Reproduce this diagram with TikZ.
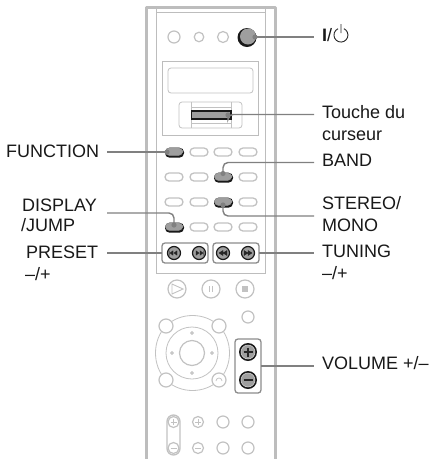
\documentclass[tikz,border=0pt]{standalone}
\usepackage{fontspec}
\setmainfont{Liberation Sans}
\definecolor{bodygr}{gray}{0.74}
\definecolor{softgr}{gray}{0.76}
\definecolor{midgr}{gray}{0.62}
\definecolor{leadgr}{gray}{0.5}
\tikzset{
  x=1pt,y=-1pt,
  lbl/.style={anchor=base west,inner sep=0pt,font=\fontsize{18}{20}\selectfont,text=black!90},
  leader/.style={draw=leadgr,line width=1.4pt,rounded corners=5pt},
  tipdot/.style={fill=leadgr,draw=none},
  bodyline/.style={draw=bodygr,line width=1pt},
  softline/.style={draw=softgr,line width=0.8pt,fill=white},
  softthick/.style={draw=softgr,line width=1.3pt,fill=white},
  pillbtn/.style={rectangle,rounded corners=4pt,minimum width=18pt,minimum height=8pt,inner sep=0pt,draw=softgr,line width=1.3pt,fill=white},
  pillshadow/.style={rectangle,rounded corners=4.5pt,minimum width=19pt,minimum height=10pt,inner sep=0pt,fill=black!90},
  pilldark/.style={rectangle,rounded corners=4pt,minimum width=17pt,minimum height=7.5pt,inner sep=0pt,fill=midgr,draw=gray!80,line width=0.5pt},
  roundb/.style={circle,minimum size=#1,inner sep=0pt,draw=softgr,line width=1.2pt,fill=white},
  darkb/.style={circle,minimum size=#1,inner sep=0pt,draw=black!90,line width=1.2pt,fill=midgr},
  groupbox/.style={draw=gray!90,line width=1.3pt,rounded corners=3pt},
  sym/.style={draw=black!85,line width=0.9pt},
  softsym/.style={draw=softgr,line width=0.9pt}
}
\begin{document}
\begin{tikzpicture}
\useasboundingbox (0,0) rectangle (430,459);
\fill[white] (0,0) rectangle (430,459);
% body
\draw[draw=bodygr,line width=3pt,line join=round] (146,459) -- (146,7) -- (275.5,7) -- (275.5,459);
\draw[bodyline] (156,7) -- (156,273) -- (265,273) -- (265,7);
\draw[bodyline] (156,12.5) -- (265,12.5);
% top buttons
\node[roundb=12pt] (t1) at (174,37) {};
\node[roundb=9.5pt] (t2) at (199,37) {};
\node[roundb=11pt] (t3) at (223,37) {};
\fill[black!90] (247,37.5) circle (9.5);
\fill[midgr] (248,36.5) circle (8);
\coordinate (pw) at (255,37);
% display
\draw[bodyline,fill=white] (162,61) rectangle (258,135);
\draw[softline,rounded corners=3pt] (168,68) rectangle (253,93);
\draw[softline,rounded corners=3pt] (179,102) rectangle (242,128);
\draw[softline] (191,102) -- (191,128) (231,102) -- (231,128);
\draw[softline] (191,107) -- (231,107) (191,123) -- (231,123);
\draw[draw=black!90,line width=1.1pt,fill=midgr] (191.5,111) rectangle (231,119);
\coordinate (cur) at (228,115);
% pills
\foreach \x/\y in {199/152,223/152,248/152,174/177,199/177,248/177,174/202,199/202,248/202,199/227,223/227,248/227}
  \node[pillbtn] at (\x,\y) {};
\foreach \nm/\x/\y in {fn/174/152,band/223/177,ster/223/202,disp/174/227}{
  \node[pillshadow] at (\x+0.5,\y+0.7) {};
  \node[pilldark] (\nm) at (\x,\y-0.3) {};
}
\coordinate (tfn) at (167,152);
\coordinate (tband) at (223,173.5);
\coordinate (tster) at (223,205);
\coordinate (tdisp) at (174,225);
% transport groups
\draw[groupbox] (162,243) rectangle (208,263);
\draw[groupbox] (213,243) rectangle (259,263);
\coordinate (gl) at (162,253);
\coordinate (gr) at (259,253);
\node[darkb=13pt] (p1) at (174,253) {};
\node[darkb=13pt] (p2) at (199,253) {};
\node[darkb=13pt] (p3) at (223,253) {};
\node[darkb=13pt] (p4) at (248,253) {};
\draw[sym,fill=black!85,line width=0.4pt]
  (169.5,250.5) -- (169.5,255.5) (170,253) -- (173,250.8) -- (173,255.2) -- cycle (174,253) -- (177,250.8) -- (177,255.2) -- cycle
  (203.5,250.5) -- (203.5,255.5) (203,253) -- (200,250.8) -- (200,255.2) -- cycle (199,253) -- (196,250.8) -- (196,255.2) -- cycle
  (219,253) -- (223,250.5) -- (223,255.5) -- cycle (223,253) -- (227,250.5) -- (227,255.5) -- cycle
  (252,253) -- (248,250.5) -- (248,255.5) -- cycle (248,253) -- (244,250.5) -- (244,255.5) -- cycle;
% play row
\node[roundb=18pt] (play) at (177,289) {};
\node[roundb=18pt] (paus) at (211,289) {};
\node[roundb=18pt] (stop) at (245,289) {};
\draw[softsym] (172,284) -- (183,289) -- (172,294) -- cycle;
\draw[softsym,line width=1.3pt] (209.8,286) -- (209.8,292) (212.2,286) -- (212.2,292);
\fill[softgr] (242,286) rectangle (248,292);
% lower
\node[roundb=12pt] (aux) at (248,317) {};
% dpad
\draw[softline] (166,326) .. controls (180,312) and (205,312) .. (219,326)
  .. controls (233,340) and (233,366) .. (219,380)
  .. controls (205,394) and (180,394) .. (166,380)
  .. controls (152,366) and (152,340) .. (166,326) -- cycle;
\node[roundb=14pt] (d1) at (166,326) {};
\node[roundb=14pt] (d2) at (219,326) {};
\node[roundb=14pt] (d3) at (166,380) {};
\node[roundb=14pt] (d4) at (219,380) {};
\draw[softline,fill=white] (192,353) circle (26);
\node[roundb=25pt] (dc) at (192,353) {};
\foreach \dx/\dy in {0/-20,20/0,0/20,-20/0}
  \fill[softgr] (192+\dx-1.8,353+\dy-0.6) rectangle (192+\dx+1.8,353+\dy+0.6) (192+\dx-0.6,353+\dy-1.8) rectangle (192+\dx+0.6,353+\dy+1.8);
\draw[softsym,line width=0.7pt] (216,381) arc (180:360:3);
% volume
\draw[groupbox] (235,339) rectangle (261,393);
\coordinate (vg) at (261,366);
\node[circle,minimum size=18pt,inner sep=0pt,fill=black!90] (vp) at (248,352) {};
\node[circle,minimum size=18pt,inner sep=0pt,fill=black!90] (vm) at (248,380) {};
\draw[draw=white!85!black,line width=0.5pt,fill=midgr] (248,352) circle (7);
\draw[draw=white!85!black,line width=0.5pt,fill=midgr] (248,380) circle (7);
\draw[sym,line width=1.3pt] (243.5,352) -- (252.5,352) (248,347.5) -- (248,356.5) (243.5,380) -- (252.5,380);
% bottom
\draw[softthick,rounded corners=6.5pt] (167,415) rectangle (180,455);
\node[roundb=11pt] (b1) at (173.5,422) {};
\node[roundb=11pt] (b2) at (173.5,448) {};
\node[roundb=11pt] (b3) at (198,422) {};
\node[roundb=11pt] (b4) at (198,448) {};
\node[roundb=12pt] (b5) at (223,422) {};
\node[roundb=12pt] (b6) at (223,448) {};
\node[roundb=12pt] (b7) at (248,422) {};
\node[roundb=12pt] (b8) at (248,448) {};
\draw[softsym,line width=0.7pt] (170.5,422) -- (176.5,422) (173.5,419) -- (173.5,425) (170.5,448) -- (176.5,448)
 (195,422) -- (201,422) (198,419) -- (198,425) (195,448) -- (201,448);
% labels
\node[lbl] (Lfn) at (6,157.5) {FUNCTION};
\node[lbl] (Ldisp) at (22,211.5) {DISPLAY};
\node[lbl] at (21,231.5) {/JUMP};
\node[lbl] (Lpre) at (26,258.5) {PRESET};
\node[lbl] at (25,280) {–/+};
\node[lbl] (Lcur) at (322,118.5) {Touche du};
\node[lbl] at (322,140.5) {curseur};
\node[lbl] (Lband) at (322,166.5) {BAND};
\node[lbl] (Lster) at (322,209.5) {STEREO/};
\node[lbl] at (322,231.5) {MONO};
\node[lbl] (Ltun) at (322,257.5) {TUNING};
\node[lbl] at (322,279.5) {–/+};
\node[lbl] (Lvol) at (322,369.5) {VOLUME +/–};
\node[lbl] (Lpw) at (322,41) {\textbf{I}/};
\draw[line width=0.9pt,black!85] (338,28.7) arc (-115:-425:7) (341,24) -- (341,33);
% leader end points
\coordinate (epw) at (314,37);
\coordinate (ecur) at (314,114.5);
\coordinate (eband) at (314,162.5);
\coordinate (ester) at (314,216);
\coordinate (etun) at (314,253);
\coordinate (evol) at (314,366);
\coordinate (efn) at (107,152);
\coordinate (edisp) at (107,213);
\coordinate (epre) at (107,253);
% leaders
\draw[leader] (pw) -- (epw);
\draw[leader] (cur) -- (cur |- ecur) -- (ecur);
\draw[leader] (efn) -- (tfn);
\draw[leader] (edisp) -- (tdisp |- edisp) -- (tdisp);
\draw[leader] (tband) -- (tband |- eband) -- (eband);
\draw[leader] (tster) -- (tster |- ester) -- (ester);
\draw[leader] (epre) -- (gl);
\draw[leader] (gr) -- (etun);
\draw[leader] (vg) -- (evol);
\foreach \c in {pw,cur,tfn,tdisp,tband,tster}
  \fill[tipdot] (\c) circle (2.6);
\end{tikzpicture}
\end{document}
